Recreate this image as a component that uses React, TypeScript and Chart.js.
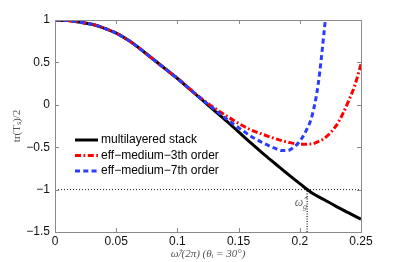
import React, { useEffect, useRef } from "react";
import { Chart, registerables } from "chart.js";

Chart.register(...registerables);

const seriesLabels = ["multilayered stack", "eff\u2212medium\u22123th order", "eff\u2212medium\u22127th order"];

const xBlack = [0, 0.01, 0.02, 0.03, 0.04, 0.05, 0.06, 0.07, 0.08, 0.09, 0.1, 0.11, 0.12, 0.13, 0.14, 0.15, 0.16, 0.17, 0.18, 0.19, 0.2, 0.21, 0.22, 0.23, 0.24, 0.25];
const yBlack = [1, 0.994, 0.975, 0.95, 0.905, 0.845, 0.76, 0.655, 0.54, 0.425, 0.31, 0.185, 0.06, -0.065, -0.19, -0.32, -0.45, -0.575, -0.695, -0.815, -0.93, -1.04, -1.12, -1.2, -1.275, -1.35];

const xRed = [0, 0.01, 0.02, 0.03, 0.04, 0.05, 0.06, 0.07, 0.08, 0.09, 0.1, 0.11, 0.12, 0.13, 0.14, 0.15, 0.16, 0.17, 0.18, 0.19, 0.2, 0.21, 0.215, 0.22, 0.225, 0.23, 0.235, 0.24, 0.245, 0.25];
const yRed = [1, 0.994, 0.975, 0.95, 0.905, 0.845, 0.76, 0.655, 0.54, 0.425, 0.315, 0.19, 0.07, -0.035, -0.13, -0.22, -0.295, -0.35, -0.4, -0.44, -0.465, -0.46, -0.435, -0.395, -0.33, -0.24, -0.11, 0.05, 0.23, 0.48];

const xBlue = [0, 0.01, 0.02, 0.03, 0.04, 0.05, 0.06, 0.07, 0.08, 0.09, 0.1, 0.11, 0.12, 0.13, 0.14, 0.15, 0.16, 0.17, 0.18, 0.185, 0.19, 0.195, 0.2, 0.205, 0.21, 0.215, 0.22, 0.225];
const yBlue = [1, 0.994, 0.975, 0.95, 0.905, 0.845, 0.76, 0.655, 0.54, 0.425, 0.312, 0.187, 0.065, -0.05, -0.165, -0.27, -0.37, -0.45, -0.515, -0.54, -0.54, -0.5, -0.43, -0.31, -0.13, 0.24, 0.88, 1.6];

const xTickValues = [0, 0.05, 0.1, 0.15, 0.2, 0.25];
const xTickLabels = ["0", "0.05", "0.1", "0.15", "0.2", "0.25"];
const yTickValues = [-1.5, -1, -0.5, 0, 0.5, 1];
const yTickLabels = ["\u22121.5", "\u22121", "\u22120.5", "0", "0.5", "1"];

const gapLevel = -1;
const gapX = 0.206;
const gapLabelX = 0.1993;
const gapLabelY = -1.158;

const toPts = (xs: number[], ys: number[]) => xs.map((x, i) => ({ x, y: ys[i] }));

const framePlugin = {
  id: "frameTicksLegend",
  afterDatasetsDraw(chart: any) {
    const { ctx, chartArea: a, scales } = chart;
    const xs = scales.x;
    const ys = scales.y;
    ctx.save();
    ctx.strokeStyle = "#8a8a8a";
    ctx.lineWidth = 1;
    ctx.setLineDash([]);
    ctx.strokeRect(Math.round(a.left) + 0.5, Math.round(a.top) + 0.5, Math.round(a.right - a.left), Math.round(a.bottom - a.top));
    const tl = 4;
    ctx.beginPath();
    xTickValues.forEach((v) => {
      const px = Math.round(xs.getPixelForValue(v)) + 0.5;
      ctx.moveTo(px, a.bottom);
      ctx.lineTo(px, a.bottom - tl);
      ctx.moveTo(px, a.top);
      ctx.lineTo(px, a.top + tl);
    });
    yTickValues.forEach((v) => {
      const py = Math.round(ys.getPixelForValue(v)) + 0.5;
      ctx.moveTo(a.left, py);
      ctx.lineTo(a.left + tl, py);
      ctx.moveTo(a.right, py);
      ctx.lineTo(a.right - tl, py);
    });
    ctx.stroke();

    const lx = xs.getPixelForValue(gapLabelX);
    const ly = ys.getPixelForValue(gapLabelY);
    ctx.fillStyle = "#666";
    ctx.font = "italic 12px 'Liberation Serif', serif";
    ctx.textAlign = "center";
    ctx.textBaseline = "middle";
    ctx.fillText("\u03C9\u0302", lx, ly);
    ctx.font = "italic 8px 'Liberation Serif', serif";
    ctx.fillText("g", lx + 6, ly + 3.5);

    const rows = [140, 155.5, 171];
    const lx0 = 75;
    const lx1 = 98;
    chart.data.datasets.slice(0, 3).forEach((ds: any, i: number) => {
      ctx.beginPath();
      ctx.strokeStyle = ds.borderColor;
      ctx.lineWidth = ds.borderWidth;
      ctx.setLineDash(ds.borderDash || []);
      ctx.moveTo(lx0, rows[i]);
      ctx.lineTo(lx1, rows[i]);
      ctx.stroke();
      ctx.setLineDash([]);
      ctx.fillStyle = "#000";
      ctx.font = "12px 'Liberation Sans', Arial, sans-serif";
      ctx.textAlign = "left";
      ctx.textBaseline = "middle";
      ctx.fillText(ds.label, 101, rows[i]);
    });
    ctx.restore();
  },
};

export default function App() {
  const ref = useRef<HTMLCanvasElement | null>(null);
  useEffect(() => {
    if (!ref.current) return;
    const chart = new Chart(ref.current, {
      type: "line",
      data: {
        datasets: [
          {
            label: seriesLabels[0],
            data: toPts(xBlack, yBlack),
            borderColor: "#000000",
            borderWidth: 3,
            pointRadius: 0,
            cubicInterpolationMode: "monotone",
            order: 3,
          },
          {
            label: seriesLabels[1],
            data: toPts(xRed, yRed),
            borderColor: "#ff0000",
            borderWidth: 3,
            borderDash: [6, 2.5, 1.8, 2.5],
            pointRadius: 0,
            cubicInterpolationMode: "monotone",
            order: 2,
          },
          {
            label: seriesLabels[2],
            data: toPts(xBlue, yBlue),
            borderColor: "#2b3cff",
            borderWidth: 3,
            borderDash: [5, 3.3],
            pointRadius: 0,
            cubicInterpolationMode: "monotone",
            order: 1,
          },
          {
            label: "level",
            data: [
              { x: 0, y: gapLevel },
              { x: 0.25, y: gapLevel },
            ],
            borderColor: "#222",
            borderWidth: 1,
            borderDash: [1, 2],
            pointRadius: 0,
            order: 4,
          },
          {
            label: "gap",
            data: [
              { x: gapX, y: -1.5 },
              { x: gapX, y: gapLevel },
            ],
            borderColor: "#222",
            borderWidth: 1.3,
            borderDash: [1, 1.5],
            pointRadius: 0,
            order: 4,
          },
        ],
      },
      options: {
        animation: false,
        responsive: false,
        layout: { padding: { left: 0, right: 38, top: 20, bottom: 0 } },
        plugins: { legend: { display: false }, tooltip: { enabled: false } },
        scales: {
          x: {
            type: "linear",
            min: 0,
            max: 0.25,
            grid: { display: false, drawTicks: false },
            border: { display: false },
            afterBuildTicks: (s: any) => {
              s.ticks = xTickValues.map((v) => ({ value: v }));
            },
            afterFit: (s: any) => {
              s.height = 30;
            },
            ticks: {
              autoSkip: false,
              maxRotation: 0,
              padding: 2,
              color: "#111",
              font: { family: "'Liberation Sans', Arial, sans-serif", size: 12 },
              callback: (_v: any, i: number) => xTickLabels[i],
            },
            title: {
              display: true,
              text: "\u03C9\u0302/(2\u03C0) (\u03B8\u1D62 = 30\u00B0)",
              color: "#555",
              font: { family: "'Liberation Serif', serif", size: 11, style: "italic" },
              padding: { top: 0, bottom: 1 },
            },
          },
          y: {
            type: "linear",
            min: -1.5,
            max: 1,
            grid: { display: false, drawTicks: false },
            border: { display: false },
            afterBuildTicks: (s: any) => {
              s.ticks = yTickValues.map((v) => ({ value: v }));
            },
            afterFit: (s: any) => {
              s.width = 55;
            },
            ticks: {
              padding: 5,
              color: "#111",
              font: { family: "'Liberation Sans', Arial, sans-serif", size: 12 },
              callback: (_v: any, i: number) => yTickLabels[i],
            },
            title: {
              display: true,
              text: "tr(T\u209B)/2",
              color: "#555",
              font: { family: "'Liberation Serif', serif", size: 11 },
              padding: { top: 11, bottom: 0 },
            },
          },
        },
      },
      plugins: [framePlugin],
    } as any);
    return () => chart.destroy();
  }, []);
  return (
    <div style={{ position: "fixed", left: 0, top: 0, width: 399, height: 262, background: "#fff" }}>
      <canvas ref={ref} width={399} height={262} style={{ display: "block" }} />
    </div>
  );
}
